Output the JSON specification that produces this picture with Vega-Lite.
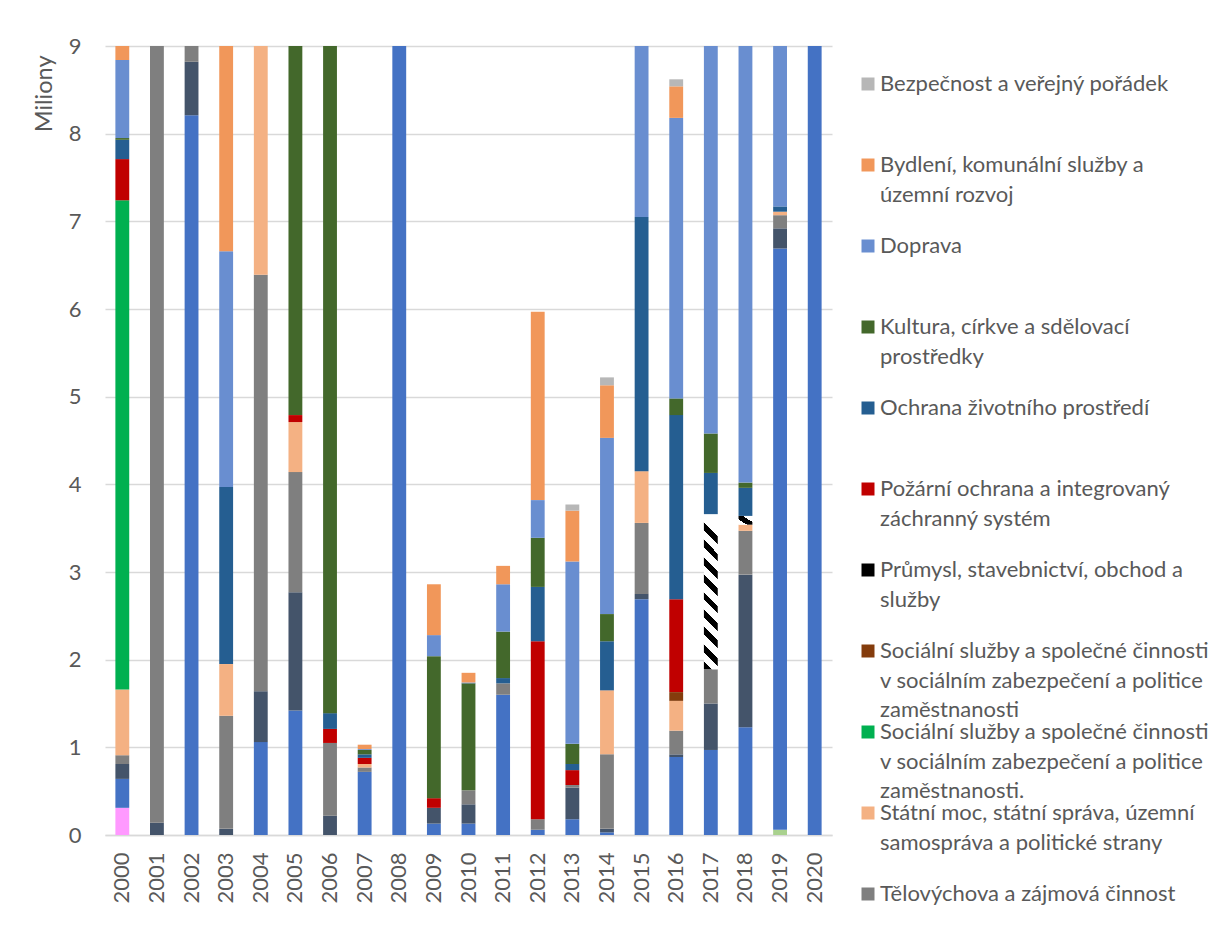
{
  "$schema": "https://vega.github.io/schema/vega-lite/v6.json",
  "width": 727,
  "height": 789,
  "autosize": "none",
  "padding": {"left": 105, "top": 46, "right": 377, "bottom": 114},
  "background": "white",
  "config": {"view": {"stroke": null}, "font": "Lato"},
  "data": {"values": [
    {"year": "2000", "cat": "Zemědělství, lesní hospodářství a rybářství", "v": 0.31},
    {"year": "2000", "cat": "Vzdělávání a školské služby", "v": 0.33},
    {"year": "2000", "cat": "Vodní hospodářství", "v": 0.17},
    {"year": "2000", "cat": "Tělovýchova a zájmová činnost", "v": 0.10},
    {"year": "2000", "cat": "Státní moc, státní správa, územní samospráva a politické strany", "v": 0.75},
    {"year": "2000", "cat": "Sociální služby a společné činnosti v sociálním zabezpečení a politice zaměstnanosti.", "v": 5.58},
    {"year": "2000", "cat": "Požární ochrana a integrovaný záchranný systém", "v": 0.47},
    {"year": "2000", "cat": "Ochrana životního prostředí", "v": 0.22},
    {"year": "2000", "cat": "Kultura, církve a sdělovací prostředky", "v": 0.02},
    {"year": "2000", "cat": "Doprava", "v": 0.89},
    {"year": "2000", "cat": "Bydlení, komunální služby a územní rozvoj", "v": 0.5},
    {"year": "2001", "cat": "Vodní hospodářství", "v": 0.14},
    {"year": "2001", "cat": "Tělovýchova a zájmová činnost", "v": 11.0},
    {"year": "2002", "cat": "Vzdělávání a školské služby", "v": 8.21},
    {"year": "2002", "cat": "Vodní hospodářství", "v": 0.61},
    {"year": "2002", "cat": "Tělovýchova a zájmová činnost", "v": 0.6},
    {"year": "2003", "cat": "Vodní hospodářství", "v": 0.07},
    {"year": "2003", "cat": "Tělovýchova a zájmová činnost", "v": 1.29},
    {"year": "2003", "cat": "Státní moc, státní správa, územní samospráva a politické strany", "v": 0.59},
    {"year": "2003", "cat": "Ochrana životního prostředí", "v": 2.02},
    {"year": "2003", "cat": "Doprava", "v": 2.69},
    {"year": "2003", "cat": "Bydlení, komunální služby a územní rozvoj", "v": 3.2},
    {"year": "2004", "cat": "Vzdělávání a školské služby", "v": 1.06},
    {"year": "2004", "cat": "Vodní hospodářství", "v": 0.58},
    {"year": "2004", "cat": "Tělovýchova a zájmová činnost", "v": 4.75},
    {"year": "2004", "cat": "Státní moc, státní správa, územní samospráva a politické strany", "v": 3.3},
    {"year": "2005", "cat": "Vzdělávání a školské služby", "v": 1.42},
    {"year": "2005", "cat": "Vodní hospodářství", "v": 1.35},
    {"year": "2005", "cat": "Tělovýchova a zájmová činnost", "v": 1.37},
    {"year": "2005", "cat": "Státní moc, státní správa, územní samospráva a politické strany", "v": 0.57},
    {"year": "2005", "cat": "Požární ochrana a integrovaný záchranný systém", "v": 0.08},
    {"year": "2005", "cat": "Kultura, církve a sdělovací prostředky", "v": 5.5},
    {"year": "2006", "cat": "Vodní hospodářství", "v": 0.22},
    {"year": "2006", "cat": "Tělovýchova a zájmová činnost", "v": 0.83},
    {"year": "2006", "cat": "Požární ochrana a integrovaný záchranný systém", "v": 0.16},
    {"year": "2006", "cat": "Ochrana životního prostředí", "v": 0.18},
    {"year": "2006", "cat": "Kultura, církve a sdělovací prostředky", "v": 8.5},
    {"year": "2007", "cat": "Vzdělávání a školské služby", "v": 0.72},
    {"year": "2007", "cat": "Tělovýchova a zájmová činnost", "v": 0.05},
    {"year": "2007", "cat": "Státní moc, státní správa, územní samospráva a politické strany", "v": 0.04},
    {"year": "2007", "cat": "Požární ochrana a integrovaný záchranný systém", "v": 0.07},
    {"year": "2007", "cat": "Ochrana životního prostředí", "v": 0.04},
    {"year": "2007", "cat": "Kultura, církve a sdělovací prostředky", "v": 0.05},
    {"year": "2007", "cat": "Doprava", "v": 0.01},
    {"year": "2007", "cat": "Bydlení, komunální služby a územní rozvoj", "v": 0.05},
    {"year": "2008", "cat": "Vzdělávání a školské služby", "v": 10.5},
    {"year": "2009", "cat": "Vzdělávání a školské služby", "v": 0.13},
    {"year": "2009", "cat": "Vodní hospodářství", "v": 0.18},
    {"year": "2009", "cat": "Požární ochrana a integrovaný záchranný systém", "v": 0.11},
    {"year": "2009", "cat": "Kultura, církve a sdělovací prostředky", "v": 1.62},
    {"year": "2009", "cat": "Doprava", "v": 0.24},
    {"year": "2009", "cat": "Bydlení, komunální služby a územní rozvoj", "v": 0.58},
    {"year": "2010", "cat": "Vzdělávání a školské služby", "v": 0.13},
    {"year": "2010", "cat": "Vodní hospodářství", "v": 0.22},
    {"year": "2010", "cat": "Tělovýchova a zájmová činnost", "v": 0.16},
    {"year": "2010", "cat": "Kultura, církve a sdělovací prostředky", "v": 1.22},
    {"year": "2010", "cat": "Doprava", "v": 0.01},
    {"year": "2010", "cat": "Bydlení, komunální služby a územní rozvoj", "v": 0.11},
    {"year": "2011", "cat": "Vzdělávání a školské služby", "v": 1.60},
    {"year": "2011", "cat": "Tělovýchova a zájmová činnost", "v": 0.13},
    {"year": "2011", "cat": "Ochrana životního prostředí", "v": 0.06},
    {"year": "2011", "cat": "Kultura, církve a sdělovací prostředky", "v": 0.53},
    {"year": "2011", "cat": "Doprava", "v": 0.54},
    {"year": "2011", "cat": "Bydlení, komunální služby a územní rozvoj", "v": 0.21},
    {"year": "2012", "cat": "Vzdělávání a školské služby", "v": 0.06},
    {"year": "2012", "cat": "Tělovýchova a zájmová činnost", "v": 0.12},
    {"year": "2012", "cat": "Požární ochrana a integrovaný záchranný systém", "v": 2.03},
    {"year": "2012", "cat": "Ochrana životního prostředí", "v": 0.62},
    {"year": "2012", "cat": "Kultura, církve a sdělovací prostředky", "v": 0.56},
    {"year": "2012", "cat": "Doprava", "v": 0.43},
    {"year": "2012", "cat": "Bydlení, komunální služby a územní rozvoj", "v": 2.15},
    {"year": "2013", "cat": "Vzdělávání a školské služby", "v": 0.18},
    {"year": "2013", "cat": "Vodní hospodářství", "v": 0.36},
    {"year": "2013", "cat": "Tělovýchova a zájmová činnost", "v": 0.03},
    {"year": "2013", "cat": "Požární ochrana a integrovaný záchranný systém", "v": 0.17},
    {"year": "2013", "cat": "Ochrana životního prostředí", "v": 0.07},
    {"year": "2013", "cat": "Kultura, církve a sdělovací prostředky", "v": 0.23},
    {"year": "2013", "cat": "Doprava", "v": 2.08},
    {"year": "2013", "cat": "Bydlení, komunální služby a územní rozvoj", "v": 0.58},
    {"year": "2013", "cat": "Bezpečnost a veřejný pořádek", "v": 0.07},
    {"year": "2014", "cat": "Vzdělávání a školské služby", "v": 0.03},
    {"year": "2014", "cat": "Vodní hospodářství", "v": 0.04},
    {"year": "2014", "cat": "Tělovýchova a zájmová činnost", "v": 0.85},
    {"year": "2014", "cat": "Státní moc, státní správa, územní samospráva a politické strany", "v": 0.73},
    {"year": "2014", "cat": "Ochrana životního prostředí", "v": 0.56},
    {"year": "2014", "cat": "Kultura, církve a sdělovací prostředky", "v": 0.31},
    {"year": "2014", "cat": "Doprava", "v": 2.01},
    {"year": "2014", "cat": "Bydlení, komunální služby a územní rozvoj", "v": 0.60},
    {"year": "2014", "cat": "Bezpečnost a veřejný pořádek", "v": 0.09},
    {"year": "2015", "cat": "Vzdělávání a školské služby", "v": 2.69},
    {"year": "2015", "cat": "Vodní hospodářství", "v": 0.06},
    {"year": "2015", "cat": "Tělovýchova a zájmová činnost", "v": 0.81},
    {"year": "2015", "cat": "Státní moc, státní správa, územní samospráva a politické strany", "v": 0.59},
    {"year": "2015", "cat": "Ochrana životního prostředí", "v": 2.90},
    {"year": "2015", "cat": "Doprava", "v": 4.0},
    {"year": "2016", "cat": "Vzdělávání a školské služby", "v": 0.89},
    {"year": "2016", "cat": "Vodní hospodářství", "v": 0.03},
    {"year": "2016", "cat": "Tělovýchova a zájmová činnost", "v": 0.27},
    {"year": "2016", "cat": "Státní moc, státní správa, územní samospráva a politické strany", "v": 0.34},
    {"year": "2016", "cat": "Sociální služby a společné činnosti v sociálním zabezpečení a politice zaměstnanosti", "v": 0.10},
    {"year": "2016", "cat": "Požární ochrana a integrovaný záchranný systém", "v": 1.06},
    {"year": "2016", "cat": "Ochrana životního prostředí", "v": 2.10},
    {"year": "2016", "cat": "Kultura, církve a sdělovací prostředky", "v": 0.19},
    {"year": "2016", "cat": "Doprava", "v": 3.20},
    {"year": "2016", "cat": "Bydlení, komunální služby a územní rozvoj", "v": 0.36},
    {"year": "2016", "cat": "Bezpečnost a veřejný pořádek", "v": 0.08},
    {"year": "2017", "cat": "Vzdělávání a školské služby", "v": 0.97},
    {"year": "2017", "cat": "Vodní hospodářství", "v": 0.53},
    {"year": "2017", "cat": "Tělovýchova a zájmová činnost", "v": 0.39},
    {"year": "2017", "cat": "Průmysl, stavebnictví, obchod a služby", "v": 1.77},
    {"year": "2017", "cat": "Ochrana životního prostředí", "v": 0.47},
    {"year": "2017", "cat": "Kultura, církve a sdělovací prostředky", "v": 0.45},
    {"year": "2017", "cat": "Doprava", "v": 5.5},
    {"year": "2018", "cat": "Vzdělávání a školské služby", "v": 1.23},
    {"year": "2018", "cat": "Vodní hospodářství", "v": 1.74},
    {"year": "2018", "cat": "Tělovýchova a zájmová činnost", "v": 0.50},
    {"year": "2018", "cat": "Státní moc, státní správa, územní samospráva a politické strany", "v": 0.07},
    {"year": "2018", "cat": "Průmysl, stavebnictví, obchod a služby", "v": 0.10},
    {"year": "2018", "cat": "Ochrana životního prostředí", "v": 0.32},
    {"year": "2018", "cat": "Kultura, církve a sdělovací prostředky", "v": 0.06},
    {"year": "2018", "cat": "Doprava", "v": 6.0},
    {"year": "2019", "cat": "Zdravotnictví", "v": 0.06},
    {"year": "2019", "cat": "Vzdělávání a školské služby", "v": 6.63},
    {"year": "2019", "cat": "Vodní hospodářství", "v": 0.23},
    {"year": "2019", "cat": "Tělovýchova a zájmová činnost", "v": 0.15},
    {"year": "2019", "cat": "Státní moc, státní správa, územní samospráva a politické strany", "v": 0.04},
    {"year": "2019", "cat": "Ochrana životního prostředí", "v": 0.06},
    {"year": "2019", "cat": "Doprava", "v": 3.0},
    {"year": "2020", "cat": "Vzdělávání a školské služby", "v": 10.0}
  ]},
  "mark": {"type": "bar", "clip": true},
  "encoding": {
    "x": {
      "field": "year", "type": "ordinal",
      "scale": {"paddingInner": 0.6, "paddingOuter": 0.3},
      "axis": {"title": null, "labelAngle": -90, "labelFontSize": 22, "labelColor": "#595959", "labelPadding": 17, "ticks": false, "domain": true, "domainColor": "#D9D9D9", "domainWidth": 1.4}
    },
    "y": {
      "field": "v", "type": "quantitative", "stack": "zero",
      "scale": {"domain": [0, 9], "nice": false},
      "axis": {"values": [0,1,2,3,4,5,6,7,8,9], "grid": true, "gridColor": "#D9D9D9", "gridWidth": 1.4, "domain": false, "ticks": false, "labelFontSize": 22, "labelColor": "#595959", "labelPadding": 24, "title": "Miliony", "titleFontSize": 23.5, "titleFontWeight": "normal", "titleColor": "#595959", "titleAnchor": "end", "titleY": 9, "titlePadding": 12}
    },
    "order": {"field": "cat", "type": "nominal", "sort": "descending"},
    "color": {
      "field": "cat", "type": "nominal",
      "condition": [
        {"test": "datum.cat === 'Průmysl, stavebnictví, obchod a služby' && datum.year === '2017'", "value": {"gradient": "linear", "x1": 0.09, "y1": 0, "x2": 0, "y2": 1, "stops": [
          {"offset": 0, "color": "white"}, {"offset": 0.0611, "color": "white"}, {"offset": 0.0611, "color": "black"}, {"offset": 0.1111, "color": "black"},
          {"offset": 0.1111, "color": "white"}, {"offset": 0.1722, "color": "white"}, {"offset": 0.1722, "color": "black"}, {"offset": 0.2222, "color": "black"},
          {"offset": 0.2222, "color": "white"}, {"offset": 0.2833, "color": "white"}, {"offset": 0.2833, "color": "black"}, {"offset": 0.3333, "color": "black"},
          {"offset": 0.3333, "color": "white"}, {"offset": 0.3944, "color": "white"}, {"offset": 0.3944, "color": "black"}, {"offset": 0.4444, "color": "black"},
          {"offset": 0.4444, "color": "white"}, {"offset": 0.5056, "color": "white"}, {"offset": 0.5056, "color": "black"}, {"offset": 0.5556, "color": "black"},
          {"offset": 0.5556, "color": "white"}, {"offset": 0.6167, "color": "white"}, {"offset": 0.6167, "color": "black"}, {"offset": 0.6667, "color": "black"},
          {"offset": 0.6667, "color": "white"}, {"offset": 0.7278, "color": "white"}, {"offset": 0.7278, "color": "black"}, {"offset": 0.7778, "color": "black"},
          {"offset": 0.7778, "color": "white"}, {"offset": 0.8389, "color": "white"}, {"offset": 0.8389, "color": "black"}, {"offset": 0.8889, "color": "black"},
          {"offset": 0.8889, "color": "white"}, {"offset": 0.95, "color": "white"}, {"offset": 0.95, "color": "black"}, {"offset": 1, "color": "black"}
        ]}},
        {"test": "datum.cat === 'Průmysl, stavebnictví, obchod a služby' && datum.year === '2018'", "value": {"gradient": "linear", "x1": 1, "y1": 0, "x2": 0, "y2": 1, "stops": [
          {"offset": 0, "color": "white"}, {"offset": 0.35, "color": "white"}, {"offset": 0.35, "color": "black"}, {"offset": 0.7, "color": "black"}, {"offset": 0.7, "color": "white"}, {"offset": 1, "color": "white"}
        ]}}
      ],
      "scale": {
        "domain": [
          "Bezpečnost a veřejný pořádek",
          "Bydlení, komunální služby a územní rozvoj",
          "Doprava",
          "Kultura, církve a sdělovací prostředky",
          "Ochrana životního prostředí",
          "Požární ochrana a integrovaný záchranný systém",
          "Průmysl, stavebnictví, obchod a služby",
          "Sociální služby a společné činnosti v sociálním zabezpečení a politice zaměstnanosti",
          "Sociální služby a společné činnosti v sociálním zabezpečení a politice zaměstnanosti.",
          "Státní moc, státní správa, územní samospráva a politické strany",
          "Tělovýchova a zájmová činnost",
          "Vodní hospodářství",
          "Vzdělávání a školské služby",
          "Zdravotnictví",
          "Zemědělství, lesní hospodářství a rybářství"
        ],
        "range": ["#B7B7B7", "#F1975A", "#698ED0", "#43682B", "#255E91", "#C00000", "#000000", "#843C0C", "#00B050", "#F4B183", "#7F7F7F", "#44546A", "#4472C4", "#A9D18E", "#FF99FF"]
      },
      "legend": {
        "title": null,
        "orient": "none",
        "legendX": 752,
        "legendY": 27,
        "padding": 0,
        "values": [
          "Bezpečnost a veřejný pořádek",
          "Bydlení, komunální služby a územní rozvoj",
          "Doprava",
          "Kultura, církve a sdělovací prostředky",
          "Ochrana životního prostředí",
          "Požární ochrana a integrovaný záchranný systém",
          "Průmysl, stavebnictví, obchod a služby",
          "Sociální služby a společné činnosti v sociálním zabezpečení a politice zaměstnanosti",
          "Sociální služby a společné činnosti v sociálním zabezpečení a politice zaměstnanosti.",
          "Státní moc, státní správa, územní samospráva a politické strany",
          "Tělovýchova a zájmová činnost"
        ],
        "symbolType": "square",
        "symbolSize": 169,
        "symbolStrokeWidth": 0,
        "labelFontSize": 22,
        "labelColor": "#595959",
        "labelBaseline": "top",
        "labelOffset": 1,
        "labelLimit": 600,
        "gridAlign": "all",
        "rowPadding": -6.9,
        "labelExpr": "datum.label == 'Bydlení, komunální služby a územní rozvoj' ? ['Bydlení, komunální služby a', 'územní rozvoj'] : datum.label == 'Kultura, církve a sdělovací prostředky' ? ['Kultura, církve a sdělovací', 'prostředky'] : datum.label == 'Požární ochrana a integrovaný záchranný systém' ? ['Požární ochrana a integrovaný', 'záchranný systém'] : datum.label == 'Průmysl, stavebnictví, obchod a služby' ? ['Průmysl, stavebnictví, obchod a', 'služby'] : datum.label == 'Sociální služby a společné činnosti v sociálním zabezpečení a politice zaměstnanosti' ? ['Sociální služby a společné činnosti', 'v sociálním zabezpečení a politice', 'zaměstnanosti'] : datum.label == 'Sociální služby a společné činnosti v sociálním zabezpečení a politice zaměstnanosti.' ? ['Sociální služby a společné činnosti', 'v sociálním zabezpečení a politice', 'zaměstnanosti.'] : datum.label == 'Státní moc, státní správa, územní samospráva a politické strany' ? ['Státní moc, státní správa, územní', 'samospráva a politické strany'] : datum.label",
        "encode": {
          "labels": {"update": {"dy": {"value": -10}, "lineHeight": {"value": 29.5}}}
        }
      }
    }
  }
}
